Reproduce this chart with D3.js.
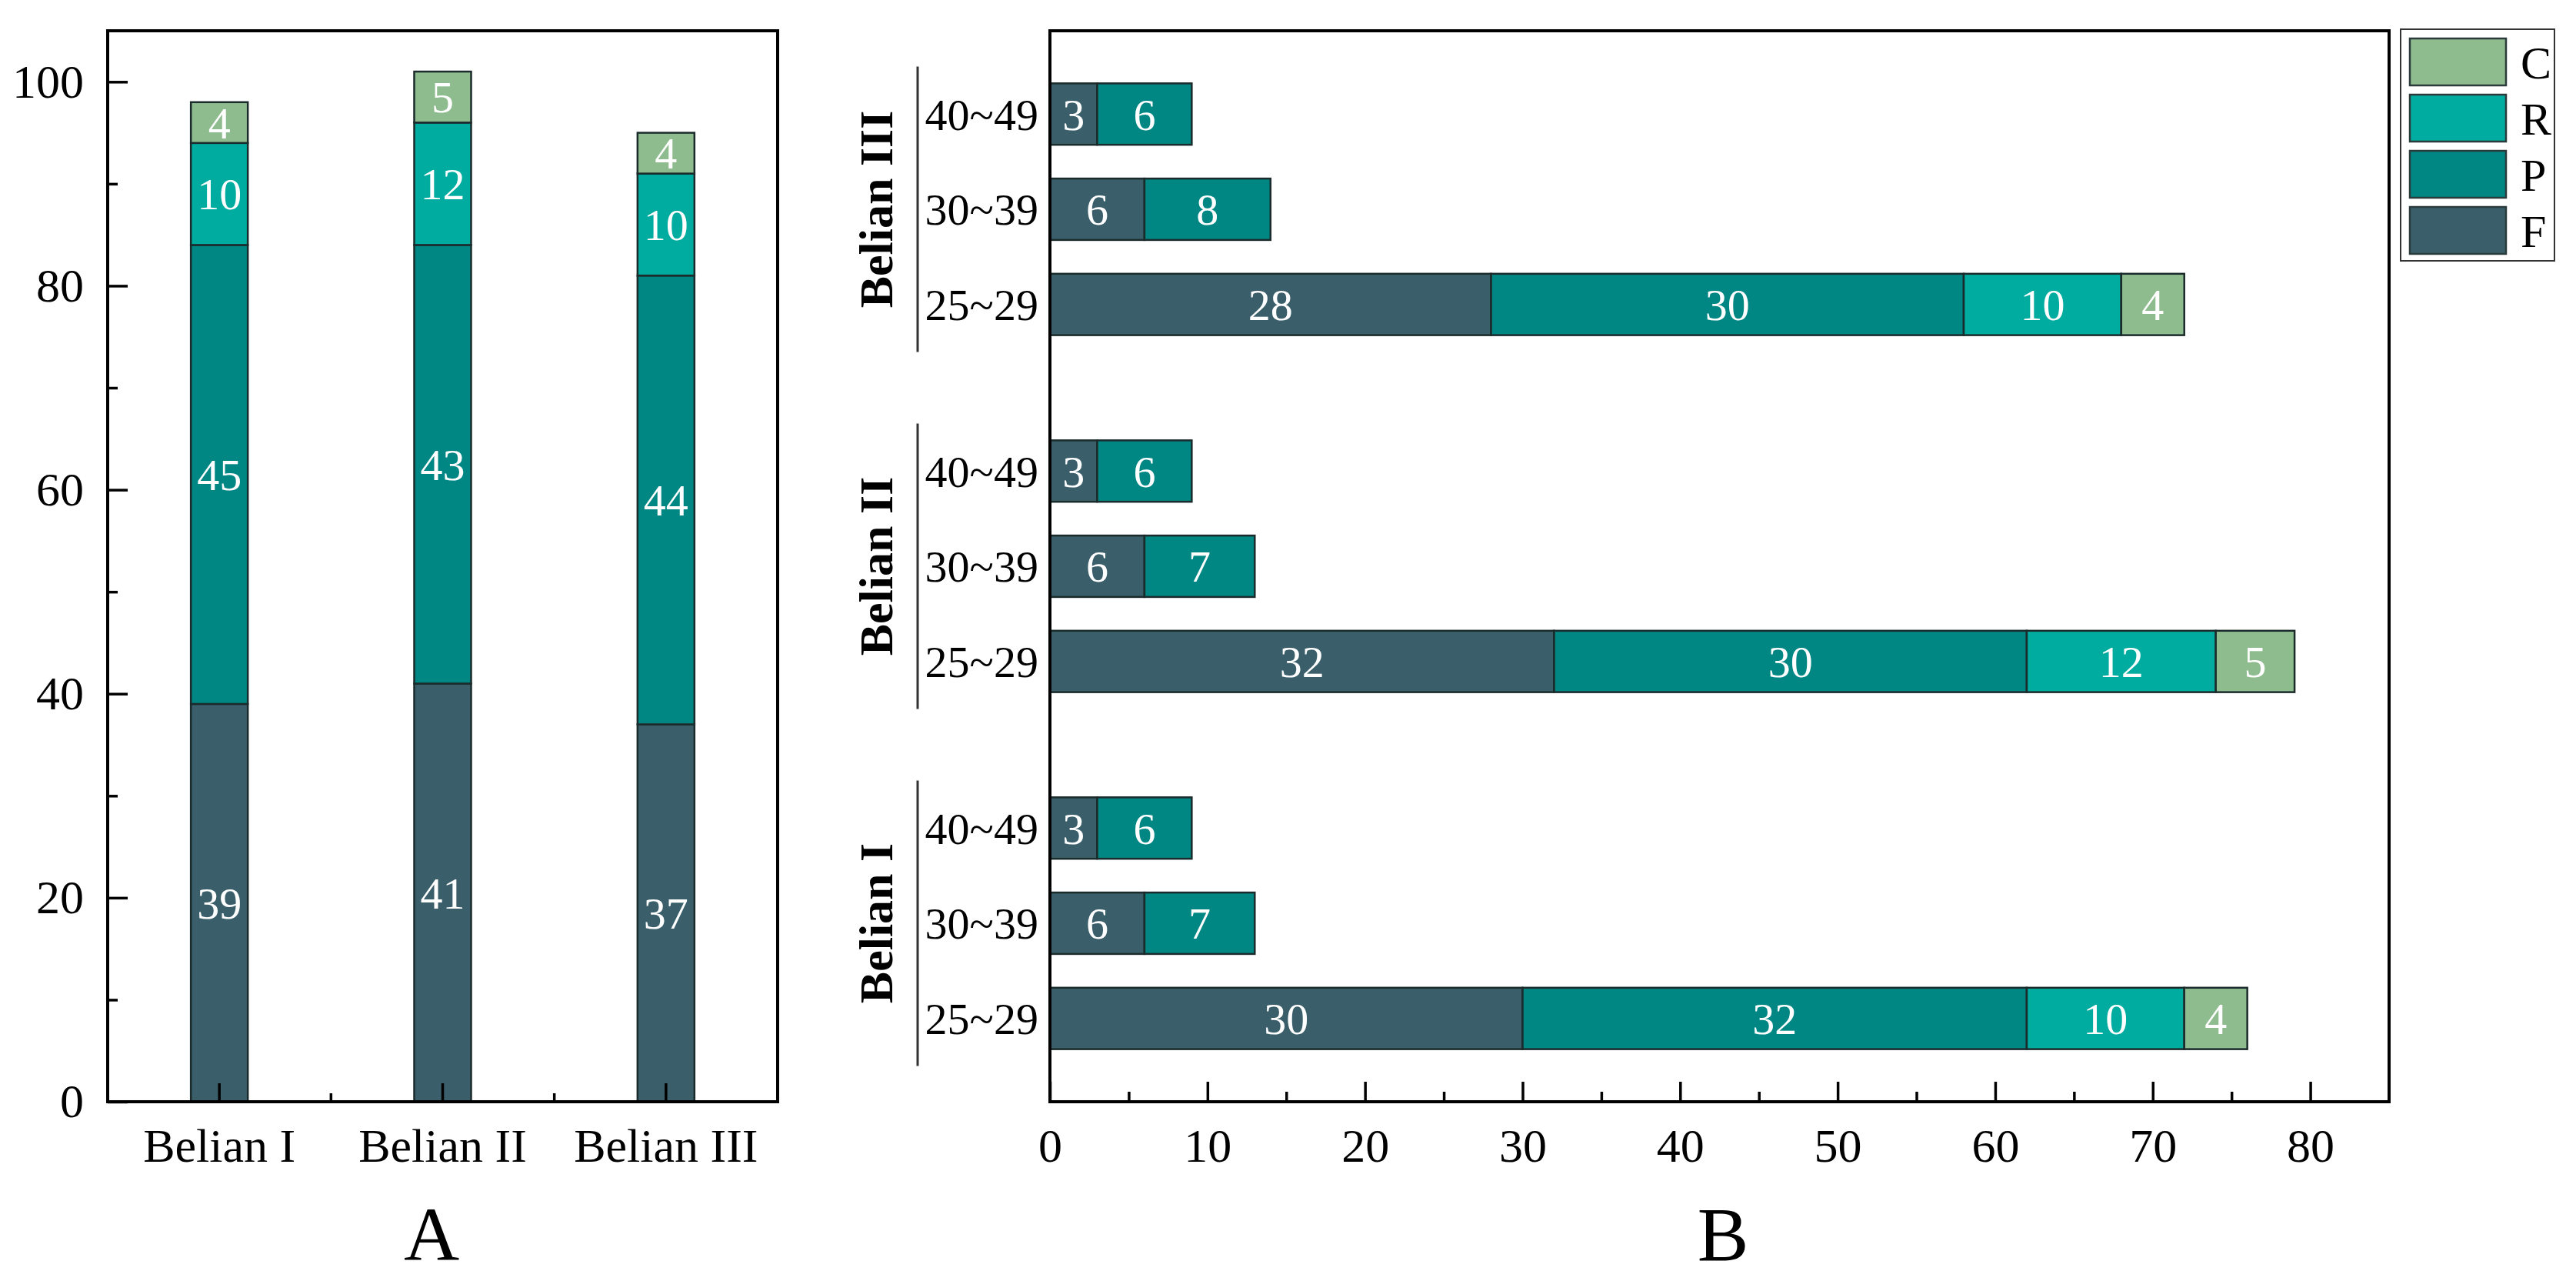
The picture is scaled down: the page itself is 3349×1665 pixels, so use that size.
<!DOCTYPE html>
<html>
<head>
<meta charset="utf-8">
<script src="https://cdn.jsdelivr.net/npm/d3@7"></script>
<style>
  body { margin: 0; background: #fff; }
  svg { display: block; font-family: "Liberation Serif"; }
</style>
</head>
<body>
<svg id="chart" width="3349" height="1665"></svg>
<script>
// ---- data ----
const seriesKeys = ["F", "P", "R", "C"];
const seriesColors = ["#3a5f6b", "#008784", "#00ab9f", "#8fbc8f"];

// panel A: totals per site
const sites = ["Belian I", "Belian II", "Belian III"];
const siteF = [39, 41, 37];
const siteP = [45, 43, 44];
const siteR = [10, 12, 10];
const siteC = [4, 5, 4];

// panel B: per site (I, II, III) and per age class
const ageGroups = ["40~49", "30~39", "25~29"];
const groupOrder = ["Belian III", "Belian II", "Belian I"];
const ageF = [[3, 6, 30], [3, 6, 32], [3, 6, 28]];
const ageP = [[6, 7, 32], [6, 7, 30], [6, 8, 30]];
const ageR = [[0, 0, 10], [0, 0, 12], [0, 0, 10]];
const ageC = [[0, 0, 4], [0, 0, 5], [0, 0, 4]];

const yTicksA = [0, 20, 40, 60, 80, 100];
const yMinorA = [10, 30, 50, 70, 90];
const xTicksB = [0, 10, 20, 30, 40, 50, 60, 70, 80];
const xMinorB = [5, 15, 25, 35, 45, 55, 65, 75];

const FONT = "Liberation Serif";
const svg = d3.select("#chart");
const color = d3.scaleOrdinal().domain(seriesKeys).range(seriesColors);

const plotTop = 40, plotBottom = 1432;
const majorLen = 26, minorLen = 13;

function styleAxis(g, size) {
    g.attr("font-family", FONT).attr("font-size", size);
    g.select(".domain").remove();
    g.selectAll(".tick line").attr("stroke", "#000").attr("stroke-width", 3.5);
    g.selectAll(".tick text").attr("fill", "#000").attr("font-family", FONT);
}

function frame(x0, x1) {
    svg.append("rect")
        .attr("x", x0).attr("y", plotTop)
        .attr("width", x1 - x0).attr("height", plotBottom - plotTop)
        .attr("fill", "none").attr("stroke", "#000").attr("stroke-width", 4);
}

// ================= Panel A =================
const aLeft = 140, aRight = 1011;
let xA = d3.scaleBand().domain(sites).range([aLeft, aRight]).padding(0);
let yA = d3.scaleLinear().domain([0, 105]).range([plotBottom, plotTop]);
const barW = 74;

let dataA = sites.map((s, i) => ({site: s, F: siteF[i], P: siteP[i], R: siteR[i], C: siteC[i]}));
let stackA = d3.stack().keys(seriesKeys)(dataA);

let barsA = svg.append("g");
stackA.forEach(layer => {
    barsA.selectAll(null)
        .data(layer)
        .enter().append("rect")
        .attr("x", d => xA(d.data.site) + xA.bandwidth() / 2 - barW / 2)
        .attr("y", d => yA(d[1]))
        .attr("width", barW)
        .attr("height", d => yA(d[0]) - yA(d[1]))
        .attr("fill", color(layer.key))
        .attr("stroke", "#1b2b2b")
        .attr("stroke-width", 2.5);
    barsA.selectAll(null)
        .data(layer.filter(d => d[1] - d[0] > 0))
        .enter().append("text")
        .attr("x", d => xA(d.data.site) + xA.bandwidth() / 2)
        .attr("y", d => yA((d[0] + d[1]) / 2))
        .attr("dy", "0.35em")
        .attr("text-anchor", "middle")
        .attr("font-family", FONT)
        .attr("font-size", 58)
        .attr("fill", "#fff")
        .text(d => d[1] - d[0]);
});

svg.append("g")
    .attr("transform", `translate(${aLeft},0)`)
    .call(d3.axisLeft(yA).tickValues(yTicksA).tickSize(-majorLen).tickPadding(31))
    .call(g => styleAxis(g, 62));
svg.append("g")
    .attr("transform", `translate(${aLeft},0)`)
    .call(d3.axisLeft(yA).tickValues(yMinorA).tickSize(-minorLen).tickFormat(""))
    .call(g => styleAxis(g, 62));

let xAxisA = d3.axisBottom(xA).tickSize(-24).tickPadding(34);
svg.append("g")
    .attr("transform", `translate(0,${plotBottom})`)
    .call(xAxisA)
    .call(g => styleAxis(g, 62));
// minor ticks between the sites
svg.append("g").selectAll("line")
    .data(sites.slice(1))
    .enter().append("line")
    .attr("x1", d => xA(d)).attr("x2", d => xA(d))
    .attr("y1", plotBottom).attr("y2", plotBottom - 11)
    .attr("stroke", "#000").attr("stroke-width", 3.5);

frame(aLeft, aRight);

svg.append("text")
    .attr("x", 561).attr("y", 1638)
    .attr("text-anchor", "middle")
    .attr("font-family", FONT).attr("font-size", 100)
    .text("A");

// ================= Panel B =================
const bLeft = 1365, bRight = 3106;
let xB = d3.scaleLinear().domain([0, 85]).range([bLeft, bRight]);
let yGroup = d3.scaleBand().domain(groupOrder).range([plotTop, plotBottom])
    .paddingInner(0.2).paddingOuter(0.1);
let yRow = d3.scaleBand().domain(ageGroups).range([0, yGroup.bandwidth()])
    .paddingInner(0.355).paddingOuter(0.1775);

let dataB = [];
sites.forEach((s, si) => {
    ageGroups.forEach((a, ai) => {
        dataB.push({site: s, age: a,
            F: ageF[si][ai], P: ageP[si][ai], R: ageR[si][ai], C: ageC[si][ai]});
    });
});
let stackB = d3.stack().keys(seriesKeys)(dataB);

let barsB = svg.append("g");
stackB.forEach(layer => {
    let segs = layer.filter(d => d[1] - d[0] > 0);
    barsB.selectAll(null)
        .data(segs)
        .enter().append("rect")
        .attr("x", d => xB(d[0]))
        .attr("y", d => yGroup(d.data.site) + yRow(d.data.age))
        .attr("width", d => xB(d[1]) - xB(d[0]))
        .attr("height", yRow.bandwidth())
        .attr("fill", color(layer.key))
        .attr("stroke", "#1b2b2b")
        .attr("stroke-width", 2.5);
    barsB.selectAll(null)
        .data(segs)
        .enter().append("text")
        .attr("x", d => xB((d[0] + d[1]) / 2))
        .attr("y", d => yGroup(d.data.site) + yRow(d.data.age) + yRow.bandwidth() / 2)
        .attr("dy", "0.35em")
        .attr("text-anchor", "middle")
        .attr("font-family", FONT)
        .attr("font-size", 58)
        .attr("fill", "#fff")
        .text(d => d[1] - d[0]);
});

svg.append("g")
    .attr("transform", `translate(0,${plotBottom})`)
    .call(d3.axisBottom(xB).tickValues(xTicksB).tickSize(-majorLen).tickPadding(34))
    .call(g => styleAxis(g, 62));
svg.append("g")
    .attr("transform", `translate(0,${plotBottom})`)
    .call(d3.axisBottom(xB).tickValues(xMinorB).tickSize(-minorLen).tickFormat(""))
    .call(g => styleAxis(g, 62));

// age labels and site brackets
let groups = svg.append("g").selectAll("g")
    .data(groupOrder)
    .enter().append("g")
    .attr("transform", d => `translate(0,${yGroup(d)})`);

groups.selectAll("text.age")
    .data(ageGroups)
    .enter().append("text")
    .attr("class", "age")
    .attr("x", bLeft - 15)
    .attr("y", d => yRow(d) + yRow.bandwidth() / 2)
    .attr("dy", "0.35em")
    .attr("text-anchor", "end")
    .attr("font-family", FONT)
    .attr("font-size", 58)
    .text(d => d);

groups.append("line")
    .attr("x1", 1193).attr("x2", 1193)
    .attr("y1", 0).attr("y2", yGroup.bandwidth())
    .attr("stroke", "#333").attr("stroke-width", 3);

groups.append("text")
    .attr("transform", `translate(1160,${yGroup.bandwidth() / 2}) rotate(-90)`)
    .attr("text-anchor", "middle")
    .attr("font-family", FONT)
    .attr("font-weight", "bold")
    .attr("font-size", 62)
    .text(d => d);

frame(bLeft, bRight);

svg.append("text")
    .attr("x", 2240).attr("y", 1638)
    .attr("text-anchor", "middle")
    .attr("font-family", FONT).attr("font-size", 100)
    .text("B");

// ---- legend ----
const legendKeys = seriesKeys.slice().reverse();
let legend = svg.append("g");
legend.append("rect")
    .attr("x", 3121).attr("y", 38)
    .attr("width", 200).attr("height", 301)
    .attr("fill", "#fff").attr("stroke", "#333").attr("stroke-width", 2);
let items = legend.selectAll("g")
    .data(legendKeys)
    .enter().append("g")
    .attr("transform", (d, i) => `translate(3133,${50 + i * 73})`);
items.append("rect")
    .attr("width", 125).attr("height", 61)
    .attr("fill", d => color(d))
    .attr("stroke", "#2b3b3b").attr("stroke-width", 2.5);
items.append("text")
    .attr("x", 144).attr("y", 31)
    .attr("dy", "0.35em")
    .attr("font-family", FONT)
    .attr("font-size", 60)
    .text(d => d);
</script>
</body>
</html>
